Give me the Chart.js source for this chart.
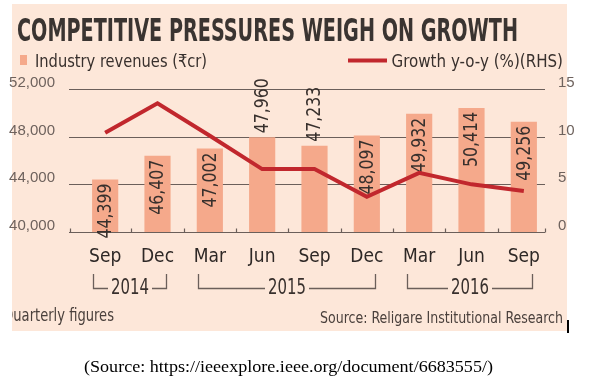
<!DOCTYPE html>
<html><head><meta charset="utf-8">
<script src="https://cdn.jsdelivr.net/npm/chart.js@4.4.0/dist/chart.umd.min.js"></script>
<style>html,body{margin:0;padding:0;background:#fff;}canvas{display:block;}</style>
</head><body>
<canvas id="c" width="605" height="381"></canvas>
<script>
// ---------- data ----------
const months = ['Sep','Dec','Mar','Jun','Sep','Dec','Mar','Jun','Sep'];
const yearLabels = ['2014','2015','2016'];
const yearFirst = [0, 2, 6];
const yearLast = [1, 5, 8];
const revenues = [44399, 46407, 47002, 47960, 47233, 48097, 49932, 50414, 49256];
const growth = [10.4, 13.5, 10.1, 6.6, 6.6, 3.7, 6.2, 5.0, 4.3];
const revTicks = [40000, 44000, 48000, 52000];
const growthTicks = [0, 5, 10, 15];
const titleText = 'COMPETITIVE PRESSURES WEIGH ON GROWTH';
const legendBars = 'Industry revenues (\u20B9cr)';
const legendLine = 'Growth y-o-y (%)(RHS)';
const noteText = 'Quarterly figures';
const sourceText = 'Source: Religare Institutional Research';
const citeText = '(Source: https://ieeexplore.ieee.org/document/6683555/)';

// ---------- style ----------
const PANEL = '#fde7d9', BAR = '#f5a98b', LINE = '#c1272d', INK = '#38302d', AXIS = '#6e625d', RULE = '#6b5f5a';
const NARROW = '"Liberation Sans Narrow", "DejaVu Sans Condensed", "Liberation Sans", sans-serif';
const fmt = v => v.toLocaleString('en-US');

function fitText(ctx, text, x, y, font, width, align, color) {
  ctx.save();
  ctx.font = font;
  ctx.fillStyle = color;
  ctx.textBaseline = 'alphabetic';
  const w = ctx.measureText(text).width;
  const s = width / w;
  ctx.translate(x, y);
  ctx.scale(s, 1);
  ctx.textAlign = 'left';
  const x0 = align === 'center' ? -w / 2 : align === 'right' ? -w : 0;
  ctx.fillText(text, x0, 0);
  ctx.restore();
}

const panelPlugin = {
  id: 'panel',
  beforeDraw(chart) {
    const ctx = chart.ctx;
    ctx.save();
    ctx.fillStyle = '#fff';
    ctx.fillRect(0, 0, chart.width, chart.height);
    ctx.fillStyle = PANEL;
    ctx.fillRect(12, 4, 555, 327);
    ctx.restore();
  },
  beforeDatasetsDraw(chart) {
    const ctx = chart.ctx, y = chart.scales.y, x = chart.scales.x;
    const L = 69, R = 545;
    ctx.save();
    ctx.strokeStyle = RULE;
    ctx.lineWidth = 1.2;
    revTicks.forEach(t => {
      const py = Math.round(y.getPixelForValue(t)) + 0.5;
      ctx.beginPath(); ctx.moveTo(L, py); ctx.lineTo(R, py); ctx.stroke();
    });
    const base = Math.round(y.getPixelForValue(revTicks[0])) + 0.5;
    const marks = [L + 1];
    for (let i = 0; i < months.length - 1; i++) {
      marks.push((x.getPixelForValue(i) + x.getPixelForValue(i + 1)) / 2);
    }
    marks.push(R);
    marks.forEach(mx => {
      const px = Math.round(mx) + 0.5;
      ctx.beginPath(); ctx.moveTo(px, base - 4); ctx.lineTo(px, base); ctx.stroke();
    });
    ctx.restore();
  },
  afterDatasetDraw(chart, args) {
    if (args.index !== 0) return;
    const ctx = chart.ctx;
    const bars = chart.getDatasetMeta(0).data;
    const pts = chart.getDatasetMeta(1).data;
    const LEN = 55, GAP = 4;
    bars.forEach((b, i) => {
      const top = b.y, base = b.base;
      let start = top + GAP + LEN;           // bottom end of the text (text reads upward)
      if (start > base - GAP) start = base - GAP;
      const ly = pts[i].y;
      if (ly > start - LEN && ly < start - 6) start = top - GAP;  // line would cross it: put above the bar
      ctx.save();
      ctx.translate(b.x, start);
      ctx.rotate(-Math.PI / 2);
      ctx.font = '19px ' + NARROW;
      const txt = fmt(revenues[i]);
      const w = ctx.measureText(txt).width;
      ctx.scale(LEN / w, 1);
      ctx.fillStyle = INK;
      ctx.textBaseline = 'middle';
      ctx.textAlign = 'left';
      ctx.fillText(txt, 0, 1);
      ctx.restore();
    });
  },
  afterDraw(chart) {
    const ctx = chart.ctx, x = chart.scales.x;
    // title
    fitText(ctx, titleText, 17, 40.5, 'bold 32px ' + NARROW, 501, 'left', '#3a3431');
    // legend
    ctx.save();
    ctx.fillStyle = BAR;
    ctx.fillRect(20, 55, 7, 10);
    ctx.strokeStyle = LINE; ctx.lineWidth = 4;
    ctx.beginPath(); ctx.moveTo(348, 60.5); ctx.lineTo(387, 60.5); ctx.stroke();
    ctx.restore();
    fitText(ctx, legendBars, 35, 66.5, '18px ' + NARROW, 172, 'left', INK);
    fitText(ctx, legendLine, 391.5, 66.5, '18px ' + NARROW, 171.5, 'left', INK);
    // year brackets
    ctx.save();
    ctx.strokeStyle = RULE; ctx.lineWidth = 1.3;
    yearLabels.forEach((yl, k) => {
      const l = Math.round(x.getPixelForValue(yearFirst[k]) - 12) + 0.5;
      const r = Math.round(x.getPixelForValue(yearLast[k]) + 8) + 0.5;
      const mid = (l + r) / 2;
      const half = 19 + 3;
      const hy = 288.5;
      ctx.beginPath();
      ctx.moveTo(l, 274); ctx.lineTo(l, hy); ctx.lineTo(mid - half, hy);
      ctx.moveTo(mid + half, hy); ctx.lineTo(r, hy); ctx.lineTo(r, 274);
      ctx.stroke();
      fitText(ctx, yl, mid, 294, '21px ' + NARROW, 38, 'center', INK);
    });
    ctx.restore();
    // footer (clipped to the panel)
    ctx.save();
    ctx.beginPath(); ctx.rect(12, 4, 555, 327); ctx.clip();
    fitText(ctx, noteText, 3, 321, '17px ' + NARROW, 111, 'left', '#4a403c');
    fitText(ctx, sourceText, 320, 323, '16px ' + NARROW, 243, 'left', '#4a403c');
    ctx.restore();
    ctx.save();
    ctx.fillStyle = '#000';
    ctx.fillRect(567, 320, 2, 13);
    ctx.restore();
    fitText(ctx, citeText, 288.5, 372, '16px "Liberation Serif", "Times New Roman", serif', 409, 'center', '#000');
  }
};

new Chart(document.getElementById('c'), {
  data: {
    labels: months,
    datasets: [
      { type: 'bar', label: legendBars, data: revenues, yAxisID: 'y', backgroundColor: BAR,
        barPercentage: 0.5, categoryPercentage: 1.0, order: 1 },
      { type: 'line', label: legendLine, data: growth, yAxisID: 'y1', borderColor: LINE, borderWidth: 4,
        pointRadius: 0, tension: 0, fill: false, order: 0 }
    ]
  },
  options: {
    responsive: false,
    devicePixelRatio: 1,
    animation: false,
    layout: { padding: { top: 89, left: 0, right: 0, bottom: 0 } },
    plugins: { legend: { display: false }, title: { display: false }, tooltip: { enabled: false } },
    scales: {
      x: {
        type: 'category', offset: true,
        grid: { display: false }, border: { display: false },
        ticks: { color: '#2e2826', font: { family: NARROW, size: 19 }, padding: 6, maxRotation: 0, autoSkip: false },
        afterFit(s) { s.height = 381 - 232; }
      },
      y: {
        position: 'left', min: 40000, max: 52000,
        grid: { display: false }, border: { display: false },
        afterBuildTicks(s) { s.ticks = revTicks.map(v => ({ value: v })); },
        ticks: { color: AXIS, font: { family: '"Liberation Sans", sans-serif', size: 15 }, padding: 16,
                 labelOffset: -6, callback: v => fmt(v) },
        afterFit(s) { s.width = 79; }
      },
      y1: {
        position: 'right', min: 0, max: 15,
        grid: { display: false }, border: { display: false },
        afterBuildTicks(s) { s.ticks = growthTicks.map(v => ({ value: v })); },
        ticks: { color: AXIS, font: { family: '"Liberation Sans", sans-serif', size: 15 }, padding: 0,
                 labelOffset: -6 },
        afterFit(s) { s.width = 55; }
      }
    }
  },
  plugins: [panelPlugin]
});
</script>
</body></html>
